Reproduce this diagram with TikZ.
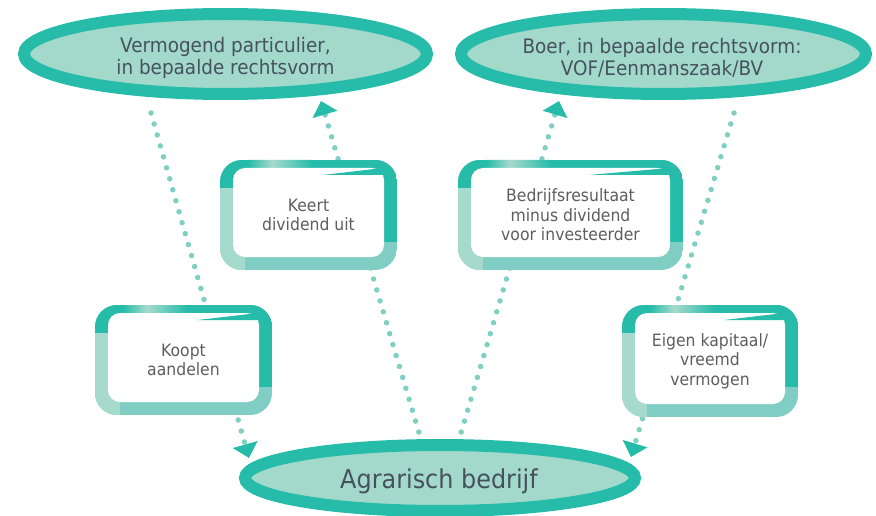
\documentclass[tikz,border=0pt]{standalone}
\usepackage{fontspec}
\setmainfont{DejaVu Sans}[FakeStretch=0.92]
\usetikzlibrary{shapes.geometric,arrows.meta}
\definecolor{cdark}{HTML}{26BCA9}
\definecolor{cfill}{HTML}{A3D9CB}
\definecolor{cdot}{HTML}{7FCFC3}
\definecolor{clight}{HTML}{A5DACD}
\definecolor{cmid}{HTML}{80CEC3}
\definecolor{ctxt}{HTML}{45525E}
\definecolor{cbtxt}{HTML}{5E5E5E}
\tikzset{
  bigell/.style={ellipse, draw=cdark, fill=cfill, line width=12pt, inner sep=0pt},
  etext/.style={align=center, text=ctxt, inner sep=0pt, font=\fontsize{20}{22}\selectfont},
  btext/.style={align=center, text=ctxt, inner sep=0pt, font=\fontsize{26}{28}\selectfont},
  boxtext/.style={align=center, text=cbtxt, inner sep=0pt, font=\fontsize{17}{19.5}\selectfont},
  dotline/.style={draw=cdot, line width=5.5pt, line cap=round, dash pattern=on 0pt off 11.4pt,
     -{Triangle[length=14pt,width=25pt,color=cdark]}},
  dotplain/.style={draw=cdot, line width=5.5pt, line cap=round, dash pattern=on 0pt off 11.4pt}
}
\newcommand\framedbox[6]{%
  \begin{scope}
    \clip[rounded corners=22pt] (#2,#3) rectangle (#4,#5);
    \fill[cmid] (#2,#3) rectangle (#4,#5);
    \fill[clight] (#2,{#3+28}) rectangle ({#2+25},#5);
    \fill[cdark] (#2,#3) rectangle (#4,{#3+28});
    \fill[cdark] ({#4-30},#3) rectangle (#4,{#3+82});
    \shade[left color=cdark,right color=clight] ({#2+28},#3) rectangle ({#2+52},{#3+10});
    \shade[left color=clight,right color=cdark] ({#2+52},#3) rectangle ({#2+92},{#3+10});
  \end{scope}
  \fill[white,rounded corners=12pt] ({#2+13},{#3+8}) rectangle ({#4-13},{#5-13});
  \fill[cdark] ({#2+0.58*(#4-#2)},{#3+15}) -- ({#4-14},{#3+8}) -- ({#4-14},{#3+15}) -- cycle;
  \node[boxtext] (#1) at ({(#2+#4)/2},{(#3+#5)/2}) {#6};
}
\begin{document}
\begin{tikzpicture}[x=1pt,y=-1pt]
\useasboundingbox (0,0) rectangle (876,516);
% connector end points
\coordinate (l1s) at (151,113);
\coordinate (l1e) at (249,458);
\coordinate (l2s) at (422,443);
\coordinate (l2e) at (321,101);
\coordinate (l3s) at (458,443);
\coordinate (l3e) at (559,101);
\coordinate (l4s) at (734,113);
\coordinate (l4e) at (631,457);
\draw[dotline] (l1s) -- (l1e);
\draw[dotline] (l2s) -- (l2e);
\draw[dotline] (l3s) -- (l3e);
\draw[dotline] (l4s) -- (l4e);
% ellipses
\node[bigell, minimum width=403pt, minimum height=80pt] (vp) at (225.5,54) {};
\node[etext] (vpt) at (225.5,57.5) {Vermogend particulier,\\in bepaalde rechtsvorm};
\node[bigell, minimum width=405pt, minimum height=80pt] (boer) at (663.5,54) {};
\node[etext] (boert) at (662,57.5) {Boer, in bepaalde rechtsvorm:\\VOF/Eenmanszaak/BV};
\node[bigell, minimum width=390pt, minimum height=66pt] (agr) at (440,478) {};
\node[btext] (agrt) at (439,481) {Agrarisch bedrijf};
% boxes
\framedbox{keert}{220}{160}{397}{270}{Keert\\dividend uit}
\framedbox{bedrijf}{458}{160}{683}{270}{Bedrijfsresultaat\\minus dividend\\voor investeerder}
\framedbox{koopt}{95}{305}{272}{415}{Koopt\\aandelen}
\framedbox{eigen}{622}{305}{798}{417}{Eigen kapitaal/\\vreemd\\vermogen}
\end{tikzpicture}
\end{document}
